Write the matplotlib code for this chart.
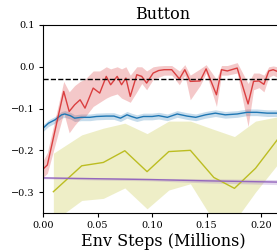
import matplotlib
matplotlib.use("Agg")
import matplotlib.pyplot as plt
import numpy as np

plt.rcParams['font.family'] = ['DejaVu Serif']

title = "Button"
xlabel = "Env Steps (Millions)"
reference_level = -0.03

red_x = [0.000, 0.004, 0.019, 0.024, 0.029, 0.034, 0.0385, 0.046, 0.052, 0.058,
         0.062, 0.068, 0.072, 0.076, 0.080, 0.086, 0.0905, 0.095, 0.101, 0.106,
         0.111, 0.118, 0.125, 0.130, 0.135, 0.144, 0.1495, 0.159, 0.1636, 0.169,
         0.178, 0.188, 0.193, 0.198, 0.2025, 0.207, 0.211, 0.2147]
red_y = [-0.245, -0.235, -0.059, -0.107, -0.091, -0.079, -0.099, -0.051, -0.063, -0.023,
         -0.043, -0.023, -0.043, -0.027, -0.071, -0.019, -0.023, -0.039, -0.015, -0.009,
         -0.007, -0.007, -0.029, -0.007, -0.035, -0.034, -0.005, -0.067, -0.007, -0.010,
         -0.003, -0.089, -0.035, -0.034, -0.042, -0.010, -0.007, -0.011]
red_lo = [-0.265, -0.255, -0.110, -0.158, -0.140, -0.125, -0.120, -0.095, -0.085, -0.075,
          -0.070, -0.065, -0.075, -0.080, -0.085, -0.060, -0.040, -0.055, -0.030, -0.025,
          -0.020, -0.020, -0.043, -0.020, -0.079, -0.045, -0.015, -0.095, -0.020, -0.020,
          -0.015, -0.143, -0.055, -0.050, -0.060, -0.025, -0.020, -0.025]
red_hi = [-0.225, -0.205, -0.035, -0.060, -0.045, -0.035, -0.030, -0.010, -0.010, 0.000,
          -0.005, 0.000, -0.005, 0.000, -0.020, 0.000, 0.000, -0.010, 0.000, 0.002,
          0.003, 0.003, -0.010, 0.005, -0.020, -0.005, 0.005, -0.030, 0.003, 0.003,
          0.010, -0.040, -0.015, -0.015, -0.020, 0.000, 0.002, 0.000]

blue_x = [0.000, 0.005, 0.011, 0.017, 0.020, 0.025, 0.029, 0.035, 0.043, 0.049,
          0.058, 0.065, 0.071, 0.077, 0.081, 0.086, 0.092, 0.100, 0.106, 0.114,
          0.123, 0.132, 0.140, 0.149, 0.158, 0.167, 0.178, 0.187, 0.196, 0.2055, 0.2147]
blue_y = [-0.147, -0.135, -0.127, -0.115, -0.113, -0.117, -0.123, -0.121, -0.121, -0.119,
          -0.118, -0.118, -0.123, -0.115, -0.119, -0.123, -0.119, -0.119, -0.117, -0.121,
          -0.113, -0.118, -0.121, -0.115, -0.111, -0.115, -0.113, -0.109, -0.109, -0.111, -0.111]
blue_err = 0.008

olive_x = [0.0095, 0.0355, 0.0553, 0.075, 0.0954, 0.1153, 0.1351, 0.1566, 0.1755, 0.1948, 0.2147]
olive_y = [-0.299, -0.237, -0.229, -0.201, -0.251, -0.203, -0.200, -0.265, -0.291, -0.243, -0.175]
olive_lo = [-0.370, -0.320, -0.315, -0.290, -0.340, -0.295, -0.280, -0.370, -0.370, -0.300, -0.235]
olive_hi = [-0.207, -0.163, -0.147, -0.135, -0.160, -0.130, -0.130, -0.150, -0.167, -0.130, -0.120]

purple_x = [0.000, 0.05, 0.10, 0.15, 0.2147]
purple_y = [-0.266, -0.268, -0.270, -0.273, -0.276]
purple_err = [0.002, 0.003, 0.003, 0.005, 0.006]

xticks = [0.00, 0.05, 0.10, 0.15, 0.20]
yticks = [0.1, 0.0, -0.1, -0.2, -0.3]

fig = plt.figure(figsize=(2.77, 2.5), dpi=100)
ax = fig.add_axes([43 / 277, 37 / 250, 240 / 277, 188 / 250])

c_red, c_blue, c_olive, c_purple = "#d62728", "#1f77b4", "#bcbd22", "#9467bd"

ax.fill_between(olive_x, olive_lo, olive_hi, color=c_olive, alpha=0.25, lw=0)
ax.plot(olive_x, olive_y, color=c_olive, lw=1.0)

py = np.array(purple_y); pe = np.array(purple_err)
ax.fill_between(purple_x, py - pe, py + pe, color=c_purple, alpha=0.25, lw=0)
ax.plot(purple_x, purple_y, color=c_purple, lw=1.0)

by = np.array(blue_y)
ax.fill_between(blue_x, by - blue_err, by + blue_err, color=c_blue, alpha=0.25, lw=0)
ax.plot(blue_x, blue_y, color=c_blue, lw=1.0)

ax.fill_between(red_x, red_lo, red_hi, color=c_red, alpha=0.25, lw=0)
ax.plot(red_x, red_y, color=c_red, lw=1.0, alpha=0.85)

ax.axhline(reference_level, color="black", ls="--", lw=1.0)

ax.set_xlim(0, 0.22)
ax.set_ylim(-0.35, 0.1)
ax.set_xticks(xticks)
ax.set_xticklabels([f"{v:.2f}" for v in xticks])
ax.set_yticks(yticks)
ax.set_yticklabels([f"{v:.1f}".replace("-", "\u2212") for v in yticks])
ax.tick_params(labelsize=7, length=3, width=0.8, pad=3)
ax.spines['right'].set_visible(False)
ax.set_title(title, fontsize=11.5, pad=4)
ax.set_xlabel(xlabel, fontsize=11.5, labelpad=2)

fig.savefig("out.png", dpi=100)
